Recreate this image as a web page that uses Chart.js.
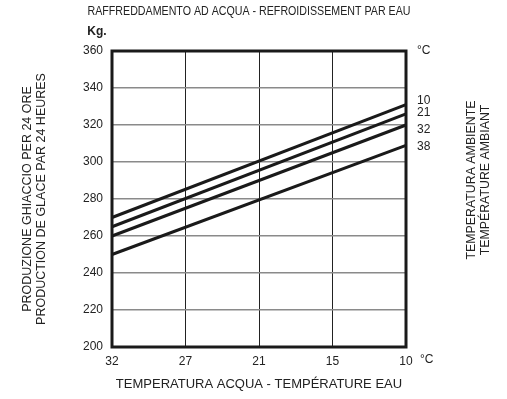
<!DOCTYPE html>
<html>
<head>
<meta charset="utf-8">
<script src="https://cdn.jsdelivr.net/npm/chart.js@4.4.0/dist/chart.umd.min.js"></script>
<style>
  html, body { margin: 0; padding: 0; background: #fff; }
  #wrap { width: 507px; height: 399px; }
</style>
</head>
<body>
<div id="wrap"><canvas id="ice" width="507" height="399"></canvas></div>
<script>
// water temperature (°C), left to right as printed
const waterTemps = ['32', '27', '21', '15', '10'];
// ambient temperature curves
const ambientTemps = ['10', '21', '32', '38'];
// kg / 24h at water 32 °C and at water 10 °C
const prodAt32 = [270, 265, 260, 250];
const prodAt10 = [331, 326, 320, 309];
const yTicks = [200, 220, 240, 260, 280, 300, 320, 340, 360];

const plain = "'Liberation Sans', Arial, sans-serif";
const ink = '#1a1a1a';

const datasets = ambientTemps.map((t, i) => ({
    label: t,
    data: [{x: waterTemps[0], y: prodAt32[i]}, {x: waterTemps[waterTemps.length - 1], y: prodAt10[i]}],
    borderColor: ink,
    borderWidth: 3,
    pointRadius: 0,
    fill: false,
    tension: 0
}));

// nudges so the curve names don't sit on top of each other
const labelNudge = [-4, -1, 5, 1];

const extras = {
    id: 'extras',
    afterDraw(chart) {
        const ctx = chart.ctx;
        const area = chart.chartArea;
        ctx.save();
        // frame
        ctx.strokeStyle = ink;
        ctx.lineWidth = 3;
        ctx.strokeRect(area.left, area.top, area.right - area.left, area.bottom - area.top);

        ctx.fillStyle = '#222';
        ctx.textBaseline = 'middle';

        // Kg.
        ctx.font = "bold 12px " + plain;
        ctx.textAlign = 'center';
        ctx.fillText('Kg.', 97, 32);

        // °C marks
        ctx.font = "12px " + plain;
        ctx.textAlign = 'left';
        ctx.fillText('°C', area.right + 11, area.top);
        ctx.fillText('°C', area.right + 14, 360);

        // curve names
        chart.data.datasets.forEach((ds, i) => {
            const pts = chart.getDatasetMeta(i).data;
            const last = pts[pts.length - 1];
            ctx.fillText(ds.label, area.right + 11, last.y + labelNudge[i]);
        });

        // top title, condensed
        ctx.save();
        ctx.font = "13px " + plain;
        ctx.textAlign = 'center';
        ctx.translate(249, 11);
        ctx.scale(0.82, 1);
        ctx.fillText('RAFFREDDAMENTO AD ACQUA - REFROIDISSEMENT PAR EAU', 0, 0);
        ctx.restore();

        // right side rotated title
        ctx.font = "13px " + plain;
        ctx.textAlign = 'center';
        ctx.translate(471, 180);
        ctx.rotate(-Math.PI / 2);
        ctx.scale(0.95, 1);
        ctx.fillText('TEMPERATURA AMBIENTE', 0, 0);
        ctx.fillText('TEMPÉRATURE AMBIANT', 0, 14);
        ctx.restore();
    }
};

new Chart(document.getElementById('ice'), {
    type: 'line',
    data: { labels: waterTemps, datasets: datasets },
    options: {
        responsive: false,
        animation: false,
        layout: { padding: { top: 51, right: 101, left: 0, bottom: 0 } },
        plugins: { legend: { display: false }, tooltip: { enabled: false } },
        scales: {
            x: {
                type: 'category',
                offset: false,
                afterFit(scale) { scale.height = 52; },
                grid: { color: '#222', lineWidth: 1, drawTicks: false },
                border: { display: false },
                ticks: { color: '#222', font: { family: plain, size: 12 }, padding: 7, maxRotation: 0 },
                title: {
                    display: true,
                    text: 'TEMPERATURA ACQUA - TEMPÉRATURE EAU',
                    color: '#222',
                    font: { family: plain, size: 13 },
                    padding: { top: 0, bottom: 7 }
                }
            },
            y: {
                min: 200,
                max: 360,
                afterFit(scale) { scale.width = 112; },
                afterBuildTicks(scale) { scale.ticks = yTicks.map(v => ({ value: v })); },
                grid: { color: '#8a8a8a', lineWidth: 1.5, drawTicks: false },
                border: { display: false },
                ticks: { color: '#222', font: { family: plain, size: 12 }, padding: 9 },
                title: {
                    display: true,
                    text: ['PRODUZIONE GHIACCIO PER 24 ORE', 'PRODUCTION DE GLACE PAR 24 HEURES'],
                    color: '#222',
                    font: { family: plain, size: 12.5, lineHeight: 1.12 },
                    padding: { top: 21, bottom: 0 }
                }
            }
        }
    },
    plugins: [extras]
});
</script>
</body>
</html>
